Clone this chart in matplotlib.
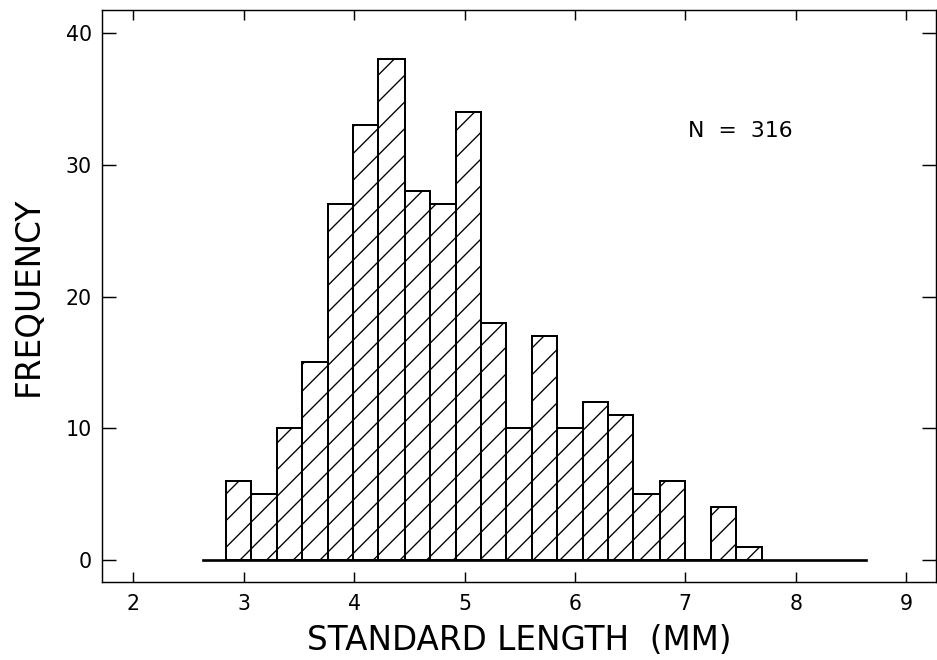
import numpy as np
import matplotlib
matplotlib.use("Agg")
import matplotlib.pyplot as plt

# Standard length bins (mm) and counts per bin
bin_edges = [2.84, 3.07, 3.30, 3.53, 3.76, 3.99, 4.22, 4.46, 4.69, 4.92, 5.15,
             5.38, 5.61, 5.84, 6.07, 6.30, 6.53, 6.77, 7.00, 7.23, 7.46, 7.69]
counts = [6, 5, 10, 15, 27, 33, 38, 28, 27, 34, 18,
          10, 17, 10, 12, 11, 5, 6, 0, 4, 1]
baseline_range = [2.63, 8.64]
x_ticks = [2, 3, 4, 5, 6, 7, 8, 9]
y_ticks = [0, 10, 20, 30, 40]
n_label = "N  =  316"

DPI = 80
plt.rcParams['font.family'] = ['DejaVu Sans']
plt.rcParams['hatch.linewidth'] = 1.2

fig = plt.figure(figsize=(937 / DPI, 660 / DPI), dpi=DPI)
ax = fig.add_axes([102 / 937, 78 / 660, 834 / 937, 572 / 660])

left = np.array(bin_edges[:-1])
widths = np.diff(bin_edges)
ax.bar(left, counts, width=widths, align='edge', fill=False,
       hatch='/', edgecolor='black', linewidth=1.8)

# horizontal baseline under the histogram
ax.plot(baseline_range, [0, 0], color='black', linewidth=2.4)

ax.set_xlim(1.717, 9.27)
ax.set_ylim(-1.67, 41.75)
ax.set_xticks(x_ticks)
ax.set_yticks(y_ticks)
ax.tick_params(axis='x', direction='in', length=9, width=1.3,
               top=True, labelsize=18.5, pad=10.8)
ax.tick_params(axis='y', direction='in', length=13, width=1.3,
               right=True, labelsize=18.5, pad=9)
for s in ax.spines.values():
    s.set_linewidth(1.3)

ax.set_xlabel("STANDARD LENGTH  (MM)", fontsize=29.4, labelpad=9)
ax.set_ylabel("FREQUENCY", fontsize=29.4, labelpad=19)

ax.text(7.5, 32.6, n_label, fontsize=19.8, ha='center', va='center')

fig.savefig("out.png", dpi=DPI, facecolor='white')
